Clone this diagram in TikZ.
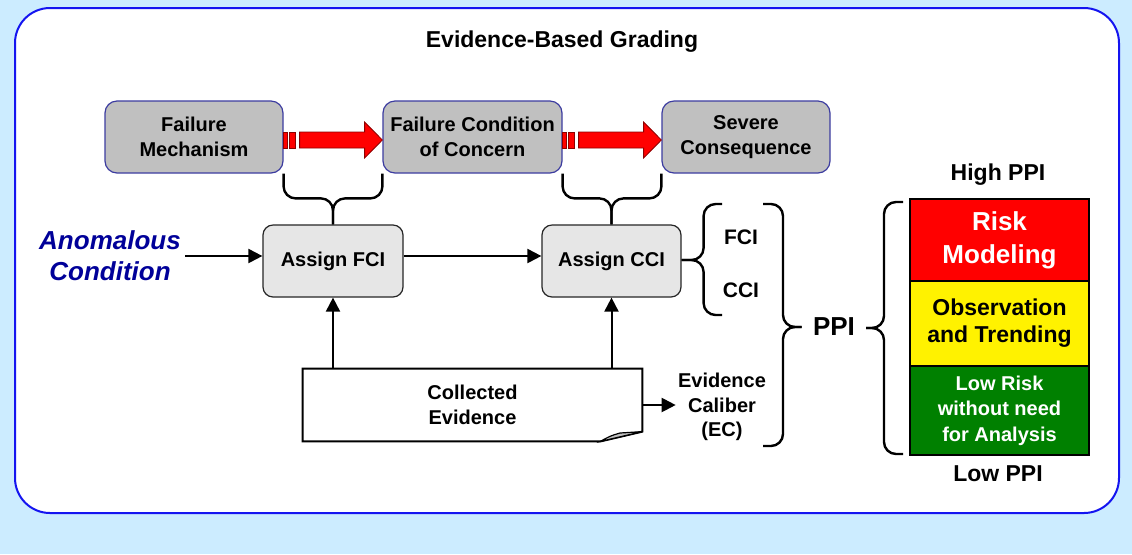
\documentclass[tikz,border=0pt]{standalone}
\usepackage{fontspec}
\setmainfont{Liberation Sans}
\usetikzlibrary{arrows.meta}
\usetikzlibrary{calc}
\definecolor{skyback}{RGB}{204,236,255}
\definecolor{frameblue}{RGB}{20,20,240}
\definecolor{boxgray}{RGB}{192,192,192}
\definecolor{boxedge}{RGB}{60,60,160}
\definecolor{assigngray}{RGB}{230,230,230}
\definecolor{anomblue}{RGB}{0,0,153}
\definecolor{riskgreen}{RGB}{0,128,0}
\newcommand{\fatarrow}[2]{%
  \coordinate (s) at ($(#1.east)+(0,3)$);
  \filldraw[fatline] ($(s)+(0,-8)$) rectangle ++(4,16);
  \filldraw[fatline] ($(s)+(6,-8)$) rectangle ++(6,16);
  \filldraw[fatline] ($(s)+(16,-8)$) -- ($(s)+(81,-8)$) -- ($(s)+(81,-18)$)
    -- ($(#2.west)+(0,3)$) -- ($(s)+(81,18)$) -- ($(s)+(81,8)$) -- ($(s)+(16,8)$) -- cycle;
}
% brace with end points #1, #2, bend point #3 and tip #4
\newcommand{\downbrace}[4]{%
  \draw[curly] (#1) |- (#3) -- (#4);
  \draw[curly] (#2) |- (#3) -- (#4);
}
\newcommand{\sidebrace}[4]{%
  \draw[curly] (#1) -| (#3) -- (#4);
  \draw[curly] (#2) -| (#3) -- (#4);
}

\begin{document}
\begin{tikzpicture}[x=0.5pt,y=-0.5pt,
    topbox/.style={draw=boxedge, fill=boxgray, rounded corners=6pt, line width=0.6pt,
      minimum height=36pt, inner sep=0pt, align=center,
      font=\fontsize{10}{12.5}\selectfont\bfseries},
    assignbox/.style={draw=black!85, fill=assigngray, rounded corners=5pt, line width=0.6pt,
      minimum width=70pt, minimum height=36pt, inner sep=0pt,
      font=\fontsize{10}{12}\selectfont\bfseries},
    plaintext/.style={inner sep=1pt, align=center, font=\fontsize{10}{12.25}\selectfont\bfseries},
    stackbox/.style={draw=black, line width=1pt, minimum width=89.5pt, inner sep=0pt, align=center},
    flow/.style={-{Triangle[length=7pt,width=7pt]}, line width=1pt},
    curly/.style={line width=1.2pt, rounded corners=6pt},
    fatline/.style={fill=red, draw=red!55!black, line width=0.4pt}]

    % background and frame
    \fill[skyback] (0,0) rectangle (1132,554);
    \useasboundingbox (0,0) rectangle (1132,554);
    \draw[frameblue, line width=1pt, fill=white, rounded corners=17.5pt] (15,8) rectangle (1119,513);

    \node[plaintext, font=\fontsize{11.5}{13}\selectfont\bfseries] (title) at (562,42) {Evidence-Based Grading};

    % failure chain
    \node[topbox, minimum width=89pt] (fm) at (194,137) {Failure\\Mechanism};
    \node[topbox, minimum width=89.5pt] (fcc) at (472.5,137) {Failure Condition\\of Concern};
    \node[topbox, minimum width=84pt] (sc) at (746,137) {Severe\\Consequence};
    \fatarrow{fm}{fcc}
    \fatarrow{fcc}{sc}

    % assignment
    \node[assignbox] (fci) at (333,261) {Assign FCI};
    \node[assignbox, minimum width=69.5pt] (cci) at (611.5,261) {Assign CCI};
    \node[plaintext, text=anomblue, inner sep=2pt,
      font=\fontsize{13}{15.5}\selectfont\bfseries\itshape] (ac) at (110,256) {Anomalous\\Condition};

    \downbrace{fm.south east}{fcc.south west}{$(fci.north)+(0,-26)$}{fci.north}
    \downbrace{fcc.south east}{sc.south west}{$(cci.north)+(0,-26)$}{cci.north}

    \draw[flow] (ac.east) -- (ac.east -| fci.west);
    \draw[flow] (fci.east |- ac.east) -- (cci.west |- ac.east);

    % evidence
    \node[plaintext, minimum width=169.5pt, minimum height=36pt] (ce) at (472.5,405) {Collected\\Evidence};
    \draw[line width=1pt, fill=white] (ce.south west) -- (ce.north west) -- (ce.north east)
      -- ++(0,63) coordinate (fold) -- ($(ce.south east)+(-42,0)$) coordinate (foot) -- cycle;
    \filldraw[fill=black!25, line width=0.6pt] (foot) .. controls (610,436) .. (620,433) -- (fold) -- cycle;
    \node[plaintext, minimum width=169.5pt, minimum height=36pt] at (ce) {Collected\\Evidence};

    \draw[flow] (fci.south |- ce.north) -- (fci.south);
    \draw[flow] (cci.south |- ce.north) -- (cci.south);

    \node[plaintext] (ec) at (722,407) {Evidence\\Caliber\\(EC)};
    \draw[flow] (ce.east) -- (ce.east -| ec.west);

    % indices
    \node[plaintext, font=\fontsize{10.5}{12}\selectfont\bfseries] (fcitxt) at (741,237) {FCI};
    \node[plaintext, font=\fontsize{10.5}{12}\selectfont\bfseries] (ccitxt) at (741,290) {CCI};
    \coordinate (idxtop) at (722,204);
    \coordinate (idxbot) at (722,315);
    \sidebrace{idxtop}{idxbot}{$(cci.east)+(22,-1)$}{$(cci.east)+(0,-1)$}

    \coordinate (ppitop) at (763,204);
    \coordinate (ppibot) at (763,446);
    \node[plaintext, font=\fontsize{13}{15}\selectfont\bfseries] (ppi) at (834,327) {PPI};
    \sidebrace{ppitop}{ppibot}{783,327}{$(ppi.west)+(-9,0)$}

    % grading stack
    \node[stackbox, fill=red, text=white, minimum height=41pt,
      font=\fontsize{13}{16.5}\selectfont\bfseries] (rm) at (999.5,240) {Risk\\Modeling};
    \node[stackbox, fill=yellow, minimum height=42.5pt,
      font=\fontsize{11.5}{13.5}\selectfont\bfseries] (ot) at (999.5,323.5) {Observation\\and Trending};
    \node[stackbox, fill=riskgreen, text=white, minimum height=44.5pt,
      font=\fontsize{10}{12.75}\selectfont\bfseries] (lr) at (999.5,410.5) {Low Risk\\without need\\for Analysis};

    \coordinate (stktop) at (903,202);
    \coordinate (stkbot) at (903,454);
    \sidebrace{stktop}{stkbot}{884,328}{866,328}

    \node[plaintext, font=\fontsize{11.5}{13}\selectfont\bfseries] (hi) at (998,175) {High PPI};
    \node[plaintext, font=\fontsize{11.5}{13}\selectfont\bfseries] (lo) at (998,474) {Low PPI};
\end{tikzpicture}
\end{document}
